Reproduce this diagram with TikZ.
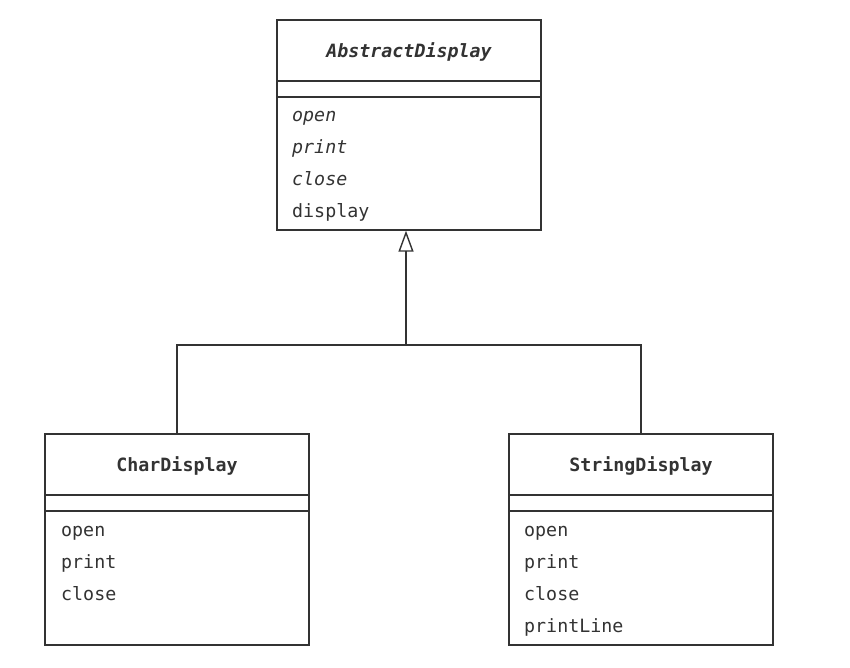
\documentclass[tikz,border=0pt]{standalone}
\usepackage{fontspec}
\setmonofont{DejaVu Sans Mono}
\usetikzlibrary{arrows.meta}
\definecolor{ink}{HTML}{333333}
\newcommand{\umlfont}{\ttfamily\fontsize{18.3}{21}\selectfont}
\tikzset{
  classbox/.style={draw=ink, line width=1.4pt, fill=white, inner sep=0pt, rectangle},
  sepline/.style={draw=ink, line width=1.4pt},
  conn/.style={draw=ink, line width=1.4pt},
  cname/.style={anchor=base, inner sep=0pt, text=ink, font=\umlfont\bfseries},
  meth/.style={anchor=base west, inner sep=0pt, text=ink, font=\umlfont},
  absmeth/.style={meth, font=\umlfont\itshape},
  inherit/.style={-{Triangle[open, length=21pt, width=15pt, line width=1.4pt]}},
}
\begin{document}
\begin{tikzpicture}[x=1pt, y=-1pt]
\useasboundingbox (0,0) rectangle (850,668);
\fill[white] (0,0) rectangle (850,668);

% AbstractDisplay
\node[classbox, minimum width=264pt, minimum height=210pt] (abs) at (409,125) {};
\draw[sepline] (277,81) -- (541,81);
\draw[sepline] (277,97) -- (541,97);
\node[cname, font=\umlfont\bfseries\itshape] (absname) at (409,58) {AbstractDisplay};
\node[absmeth] (absopen) at (292,122) {open};
\node[absmeth] (absprint) at (292,154) {print};
\node[absmeth] (absclose) at (292,186) {close};
\node[meth] (absdisplay) at (292,218) {display};

% CharDisplay
\node[classbox, minimum width=264pt, minimum height=211pt] (char) at (177,539.5) {};
\draw[sepline] (45,495) -- (309,495);
\draw[sepline] (45,511) -- (309,511);
\node[cname] (charname) at (177,471) {CharDisplay};
\node[meth] (charopen) at (61,536) {open};
\node[meth] (charprint) at (61,568) {print};
\node[meth] (charclose) at (61,600) {close};

% StringDisplay
\node[classbox, minimum width=264pt, minimum height=211pt] (str) at (641,539.5) {};
\draw[sepline] (509,495) -- (773,495);
\draw[sepline] (509,511) -- (773,511);
\node[cname] (strname) at (641,471) {StringDisplay};
\node[meth] (stropen) at (524,536) {open};
\node[meth] (strprint) at (524,568) {print};
\node[meth] (strclose) at (524,600) {close};
\node[meth] (strprintline) at (524,632) {printLine};

% connectors
\coordinate (j) at (406,345);
\draw[conn, inherit] (j) -- (j |- abs.south);
\draw[conn] (char.north) |- (j) -| (str.north);
\end{tikzpicture}
\end{document}
